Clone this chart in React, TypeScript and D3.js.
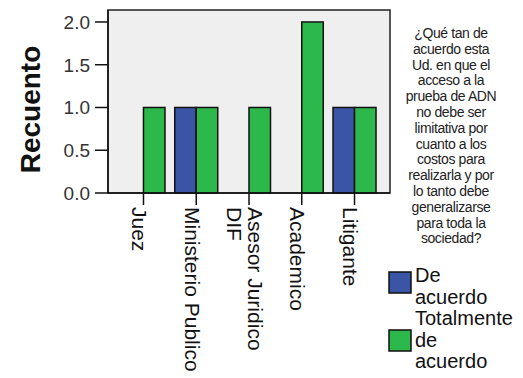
import React from "react";
import * as d3 from "d3";

const categories = ["Juez", "Ministerio Publico", "Asesor Juridico DIF", "Academico", "Litigante"];
const categoryLines = [["Juez"], ["Ministerio Publico"], ["Asesor Juridico", "DIF"], ["Academico"], ["Litigante"]];
const deAcuerdo = [0, 1, 0, 0, 1];
const totalmente = [1, 1, 1, 2, 1];
const yTicks = [0, 0.5, 1.0, 1.5, 2.0];
const seriesNames = [["De", "acuerdo"], ["Totalmente", "de", "acuerdo"]];
const seriesColors = ["#3a54a6", "#2db84b"];
const legendTitle = [
  "¿Qué tan de",
  "acuerdo esta",
  "Ud. en que el",
  "acceso a la",
  "prueba de ADN",
  "no debe ser",
  "limitativa por",
  "cuanto a los",
  "costos para",
  "realizarla y por",
  "lo tanto debe",
  "generalizarse",
  "para toda la",
  "sociedad?",
];

const W = 523;
const H = 378;
const plot = { left: 108, right: 390, top: 10, bottom: 193 };
const FONT = "'Liberation Sans', Arial, sans-serif";

export default function App() {
  const x = d3
    .scaleBand<string>()
    .domain(categories)
    .range([plot.left, plot.right])
    .paddingInner(0.185)
    .paddingOuter(0.265);
  const inner = d3.scaleBand<number>().domain([0, 1]).range([0, x.bandwidth()]);
  const y = d3.scaleLinear().domain([0, 2.14]).range([plot.bottom, plot.top]);
  const series = [deAcuerdo, totalmente];

  return (
    <svg
      width={W}
      height={H}
      style={{ position: "absolute", left: 0, top: 0, background: "#fff" }}
      fontFamily={FONT}
    >
      <rect
        x={plot.left}
        y={plot.top}
        width={plot.right - plot.left}
        height={plot.bottom - plot.top}
        fill="#efefef"
        stroke="#222"
        strokeWidth={1.5}
      />
      {categories.map((c, ci) =>
        series.map((s, si) =>
          s[ci] > 0 ? (
            <rect
              key={c + si}
              x={(x(c) as number) + (inner(si) as number)}
              y={y(s[ci])}
              width={inner.bandwidth()}
              height={y(0) - y(s[ci])}
              fill={seriesColors[si]}
              stroke="#111"
              strokeWidth={1.5}
            />
          ) : null
        )
      )}
      {/* y axis */}
      <line x1={plot.left} x2={plot.left} y1={plot.top} y2={plot.bottom} stroke="#111" strokeWidth={1.5} />
      {yTicks.map((t) => (
        <g key={t}>
          <line x1={plot.left - 13} x2={plot.left} y1={y(t)} y2={y(t)} stroke="#111" strokeWidth={1.5} />
          <text x={plot.left - 18} y={y(t)} dy="0.36em" textAnchor="end" fontSize={19} fill="#333">
            {d3.format(".1f")(t)}
          </text>
        </g>
      ))}
      <text
        transform={`translate(40, ${(plot.top + plot.bottom) / 2 + 8}) rotate(-90)`}
        textAnchor="middle"
        fontSize={28}
        fontWeight="bold"
        fill="#111"
      >
        Recuento
      </text>
      {/* x axis */}
      <line x1={plot.left} x2={plot.right} y1={plot.bottom} y2={plot.bottom} stroke="#111" strokeWidth={1.5} />
      {categories.map((c, ci) => {
        const cx = (x(c) as number) + x.bandwidth() / 2;
        const lines = categoryLines[ci];
        const n = lines.length;
        return (
          <g key={c}>
            <line x1={cx} x2={cx} y1={plot.bottom} y2={plot.bottom + 12} stroke="#111" strokeWidth={1.5} />
            <text transform={`translate(${cx}, 207) rotate(90)`} fontSize={21} fill="#111">
              {lines.map((l, li) => {
                const d = -11.5 + ((n - 1) * 21) / 2 - li * 21;
                return (
                  <tspan key={li} x={0} y={-d}>
                    {l}
                  </tspan>
                );
              })}
            </text>
          </g>
        );
      })}
      {/* legend title */}
      <text textAnchor="middle" fontSize={14} fill="#222" letterSpacing={-0.4}>
        {legendTitle.map((l, i) => (
          <tspan key={i} x={451} y={38 + i * 15.8}>
            {l}
          </tspan>
        ))}
      </text>
      {/* legend items */}
      {seriesNames.map((lines, i) => {
        const top = i === 0 ? 272 : 330;
        const firstBase = i === 0 ? 282 : 325;
        return (
          <g key={i}>
            <rect x={389} y={top} width={22} height={21} fill={seriesColors[i]} stroke="#111" strokeWidth={1.5} />
            <text fontSize={20} fill="#111">
              {lines.map((l, li) => (
                <tspan key={li} x={415} y={firstBase + li * 21.5}>
                  {l}
                </tspan>
              ))}
            </text>
          </g>
        );
      })}
    </svg>
  );
}
